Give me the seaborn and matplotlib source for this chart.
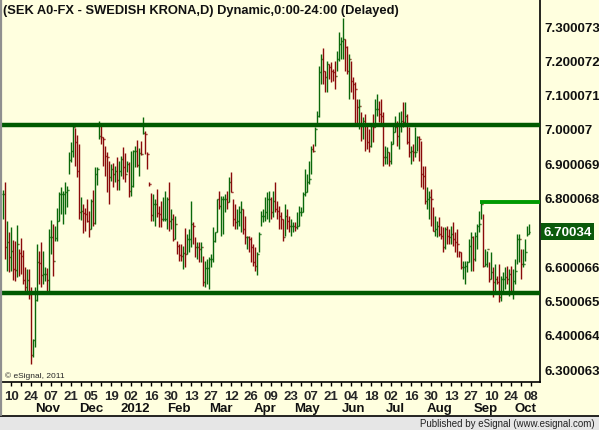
import numpy as np
import pandas as pd
import matplotlib
matplotlib.use("Agg")
import matplotlib.pyplot as plt
from matplotlib.lines import Line2D
from matplotlib.patches import Rectangle
import seaborn as sns

# daily bars SEK (Oct 4 2011 .. Oct 5 2012)
highs = [6.822, 6.845, 6.732, 6.700, 6.714, 6.676, 6.673, 6.720, 6.650, 6.682,
         6.647, 6.598, 6.592, 6.592, 6.539, 6.388, 6.539, 6.665, 6.644, 6.671,
         6.644, 6.598, 6.595, 6.708, 6.735, 6.723, 6.717, 6.770, 6.816, 6.831,
         6.819, 6.845, 6.834, 6.933, 6.962, 7.017, 7.003, 6.983, 6.956, 6.802,
         6.781, 6.770, 6.796, 6.761, 6.796, 6.822, 6.889, 6.889, 7.023, 7.015,
         6.977, 6.950, 6.933, 6.907, 6.898, 6.901, 6.892, 6.918, 6.907, 6.921,
         6.947, 6.930, 6.907, 6.904, 6.936, 6.939, 6.950, 6.968, 6.945, 6.965,
         7.035, 6.994, 6.933, 6.845, 6.813, 6.810, 6.796, 6.825, 6.776, 6.790,
         6.802, 6.819, 6.802, 6.845, 6.767, 6.752, 6.746, 6.673, 6.665, 6.665,
         6.659, 6.711, 6.694, 6.708, 6.790, 6.729, 6.685, 6.671, 6.671, 6.671,
         6.630, 6.615, 6.621, 6.627, 6.636, 6.714, 6.700, 6.796, 6.819, 6.805,
         6.805, 6.810, 6.819, 6.860, 6.875, 6.796, 6.781, 6.767, 6.776, 6.790,
         6.767, 6.746, 6.688, 6.688, 6.685, 6.665, 6.656, 6.641, 6.700, 6.761,
         6.767, 6.802, 6.816, 6.819, 6.802, 6.819, 6.845, 6.790, 6.776, 6.758,
         6.738, 6.781, 6.767, 6.746, 6.738, 6.729, 6.729, 6.758, 6.776, 6.773,
         6.816, 6.883, 6.869, 6.907, 6.950, 6.956, 7.006, 7.052, 7.184, 7.219,
         7.236, 7.169, 7.198, 7.189, 7.195, 7.175, 7.198, 7.227, 7.283, 7.268,
         7.324, 7.262, 7.242, 7.219, 7.198, 7.152, 7.137, 7.087, 7.087, 7.050,
         7.035, 7.044, 7.009, 7.000, 7.015, 7.044, 7.087, 7.102, 7.082, 7.087,
         7.050, 6.950, 6.947, 6.933, 6.965, 7.009, 7.038, 7.023, 7.050, 7.052,
         7.079, 7.079, 7.044, 7.006, 6.950, 6.956, 7.006, 6.980, 6.980, 6.965,
         6.892, 6.892, 6.831, 6.819, 6.825, 6.773, 6.746, 6.732, 6.743, 6.717,
         6.714, 6.714, 6.717, 6.708, 6.717, 6.729, 6.700, 6.708, 6.644, 6.641,
         6.615, 6.615, 6.615, 6.679, 6.700, 6.688, 6.700, 6.723, 6.761, 6.790,
         6.752, 6.650, 6.644, 6.612, 6.641, 6.598, 6.606, 6.571, 6.606, 6.571,
         6.583, 6.598, 6.601, 6.592, 6.601, 6.592, 6.621, 6.694, 6.694, 6.650,
         6.650, 6.679, 6.717, 6.723]
lows = [6.738, 6.621, 6.586, 6.583, 6.586, 6.560, 6.557, 6.568, 6.571, 6.577,
        6.548, 6.525, 6.528, 6.504, 6.315, 6.335, 6.364, 6.499, 6.548, 6.539,
        6.548, 6.557, 6.528, 6.528, 6.636, 6.571, 6.673, 6.673, 6.732, 6.752,
        6.723, 6.752, 6.773, 6.869, 6.904, 6.918, 6.892, 6.860, 6.738, 6.735,
        6.697, 6.703, 6.729, 6.685, 6.708, 6.717, 6.723, 6.837, 6.971, 6.956,
        6.892, 6.863, 6.816, 6.781, 6.848, 6.831, 6.845, 6.822, 6.822, 6.863,
        6.854, 6.845, 6.875, 6.802, 6.805, 6.831, 6.889, 6.889, 6.863, 6.924,
        6.985, 6.927, 6.883, 6.834, 6.732, 6.732, 6.717, 6.743, 6.714, 6.714,
        6.732, 6.732, 6.708, 6.703, 6.708, 6.673, 6.679, 6.636, 6.615, 6.615,
        6.592, 6.598, 6.636, 6.641, 6.656, 6.665, 6.627, 6.621, 6.612, 6.612,
        6.542, 6.539, 6.548, 6.533, 6.598, 6.612, 6.671, 6.700, 6.767, 6.688,
        6.694, 6.758, 6.767, 6.787, 6.816, 6.717, 6.708, 6.708, 6.717, 6.700,
        6.694, 6.665, 6.650, 6.641, 6.612, 6.601, 6.586, 6.574, 6.641, 6.717,
        6.729, 6.732, 6.738, 6.729, 6.738, 6.743, 6.758, 6.738, 6.708, 6.708,
        6.673, 6.688, 6.708, 6.700, 6.688, 6.700, 6.703, 6.708, 6.717, 6.746,
        6.758, 6.805, 6.816, 6.840, 6.869, 6.933, 6.950, 7.009, 7.035, 7.131,
        7.131, 7.108, 7.108, 7.146, 7.137, 7.140, 7.117, 7.169, 7.198, 7.204,
        7.204, 7.169, 7.160, 7.087, 7.108, 7.087, 7.009, 7.009, 7.000, 6.965,
        6.971, 6.936, 6.942, 6.933, 6.947, 6.962, 7.006, 7.038, 7.020, 7.009,
        6.892, 6.898, 6.898, 6.892, 6.898, 6.956, 6.991, 6.950, 6.942, 6.991,
        7.006, 7.009, 6.956, 6.918, 6.898, 6.907, 6.918, 6.936, 6.907, 6.831,
        6.825, 6.781, 6.767, 6.738, 6.717, 6.703, 6.688, 6.685, 6.688, 6.679,
        6.641, 6.650, 6.665, 6.665, 6.665, 6.659, 6.641, 6.627, 6.627, 6.592,
        6.563, 6.548, 6.583, 6.612, 6.586, 6.586, 6.615, 6.650, 6.700, 6.738,
        6.598, 6.601, 6.598, 6.554, 6.563, 6.510, 6.525, 6.548, 6.496, 6.499,
        6.525, 6.533, 6.548, 6.513, 6.519, 6.504, 6.548, 6.606, 6.612, 6.563,
        6.598, 6.615, 6.688, 6.694]
closes = [6.810, 6.656, 6.671, 6.627, 6.644, 6.592, 6.589, 6.665, 6.638, 6.630,
          6.560, 6.539, 6.560, 6.519, 6.341, 6.385, 6.501, 6.612, 6.609, 6.574,
          6.577, 6.577, 6.560, 6.685, 6.685, 6.615, 6.682, 6.732, 6.810, 6.810,
          6.810, 6.816, 6.822, 6.910, 6.936, 7.006, 6.962, 6.878, 6.758, 6.761,
          6.755, 6.752, 6.732, 6.708, 6.790, 6.726, 6.869, 6.883, 6.980, 6.977,
          6.971, 6.921, 6.918, 6.860, 6.883, 6.869, 6.878, 6.851, 6.878, 6.913,
          6.889, 6.869, 6.898, 6.819, 6.834, 6.936, 6.936, 6.895, 6.930, 6.927,
          6.988, 6.985, 6.927, 6.840, 6.749, 6.781, 6.781, 6.755, 6.752, 6.738,
          6.738, 6.738, 6.796, 6.732, 6.738, 6.679, 6.723, 6.659, 6.633, 6.630,
          6.638, 6.636, 6.679, 6.679, 6.723, 6.717, 6.656, 6.656, 6.650, 6.656,
          6.554, 6.595, 6.595, 6.621, 6.621, 6.673, 6.700, 6.796, 6.776, 6.796,
          6.796, 6.796, 6.787, 6.845, 6.816, 6.738, 6.729, 6.732, 6.758, 6.767,
          6.708, 6.685, 6.685, 6.679, 6.656, 6.612, 6.601, 6.636, 6.694, 6.746,
          6.746, 6.758, 6.796, 6.796, 6.758, 6.790, 6.767, 6.761, 6.746, 6.738,
          6.685, 6.746, 6.732, 6.717, 6.717, 6.717, 6.714, 6.717, 6.758, 6.758,
          6.810, 6.816, 6.845, 6.854, 6.942, 6.936, 7.000, 7.038, 7.166, 7.204,
          7.169, 7.152, 7.189, 7.181, 7.169, 7.166, 7.154, 7.204, 7.248, 7.257,
          7.262, 7.239, 7.169, 7.204, 7.140, 7.131, 7.117, 7.064, 7.067, 7.009,
          7.023, 7.015, 6.962, 6.950, 7.009, 7.006, 7.058, 7.058, 7.044, 7.038,
          6.918, 6.918, 6.933, 6.907, 6.956, 6.991, 7.006, 6.980, 7.009, 7.023,
          7.020, 7.038, 6.962, 6.933, 6.936, 6.933, 6.933, 6.977, 6.971, 6.869,
          6.863, 6.790, 6.796, 6.802, 6.796, 6.703, 6.708, 6.717, 6.694, 6.688,
          6.656, 6.708, 6.688, 6.685, 6.694, 6.679, 6.671, 6.665, 6.641, 6.598,
          6.598, 6.601, 6.612, 6.659, 6.685, 6.621, 6.688, 6.717, 6.723, 6.781,
          6.601, 6.606, 6.650, 6.563, 6.583, 6.554, 6.563, 6.554, 6.510, 6.563,
          6.563, 6.568, 6.563, 6.577, 6.528, 6.557, 6.586, 6.679, 6.679, 6.606,
          6.606, 6.641, 6.694, 6.70034]

support = 6.522
resistance = 7.012
sept_high = 6.787
sept_high_bar = 239
last_price = "6.70034"
ytick_vals = [6.300063, 6.400064, 6.500065, 6.600066, 6.800068,
              6.900069, 7.00007, 7.100071, 7.200072, 7.300073]
title = "(SEK A0-FX - SWEDISH KRONA,D) Dynamic,0:00-24:00 (Delayed)"

BG = "#FFFFDF"
GREEN = "#0A680A"
RED = "#8A0A0A"
LINE = "#005A00"

df = pd.DataFrame({"date": pd.bdate_range("2011-10-04", periods=len(closes)),
                   "high": highs, "low": lows, "close": closes})
df["open"] = df["close"].shift(1).fillna(df["close"])
df["x"] = np.arange(len(df))
df["color"] = np.where(df["close"] >= df["open"], GREEN, RED)

sns.set_theme(style="white", rc={"axes.facecolor": BG, "figure.facecolor": BG})
plt.rcParams["font.family"] = ["Liberation Sans", "DejaVu Sans"]

fig = plt.figure(figsize=(5.99, 4.31), dpi=100)
ax = fig.add_axes([2 / 599, 48 / 431, 538 / 599, 383 / 431])

ax.vlines(df["x"], df["low"], df["high"], colors=df["color"], lw=1.0, zorder=3)
ax.hlines(df["open"], df["x"] - 0.5, df["x"], colors=df["color"], lw=1.0, zorder=3)
ax.hlines(df["close"], df["x"], df["x"] + 0.5, colors=df["color"], lw=1.0, zorder=3)

ax.axhline(resistance, color=LINE, lw=3.2, zorder=4)
ax.axhline(support, color=LINE, lw=3.2, zorder=4)
ax.hlines(sept_high, sept_high_bar - 0.5, len(df) + 6, color="#009A00", lw=2.8, zorder=4)

ax.set_xlim(-0.65, 268.35)
ax.set_ylim(6.2624, 7.379)

# y axis on the right
ax.yaxis.tick_right()
ax.set_yticks(ytick_vals)
ax.set_yticklabels([f"{v:.6f}".rstrip("0") for v in ytick_vals])
ax.tick_params(axis="y", length=0, pad=3, labelsize=9.5, labelcolor="#111111")
for lab in ax.get_yticklabels():
    lab.set_fontweight("bold")

# biweekly date ticks
mondays = df.index[df["date"].dt.weekday == 0]
major = list(mondays[::2]) + [len(df)]
labels = [d.strftime("%d") for d in df["date"].iloc[major[:-1]]] + ["08"]
ax.set_xticks(major)
ax.set_xticklabels(labels)
ax.set_xticks(list(mondays[1::2]), minor=True)
ax.tick_params(axis="x", which="both", direction="out", length=3, width=1,
               color="black", bottom=True, pad=3, labelsize=9.5)
for lab in ax.get_xticklabels():
    lab.set_fontweight("bold")

firsts = df.groupby(df["date"].dt.to_period("M"))["x"].first().iloc[1:]
for per, xi in firsts.items():
    name = "2012" if per.month == 1 else per.strftime("%b")
    ax.text(xi + 2, -0.068, name, transform=ax.get_xaxis_transform(),
            ha="center", va="center", fontsize=9.5, fontweight="bold", color="#111111")

for side in ["top", "left"]:
    ax.spines[side].set_visible(False)
for side in ["right", "bottom"]:
    ax.spines[side].set_color("black")
    ax.spines[side].set_linewidth(1.2)

ax.text(1.006, float(last_price), last_price,
        transform=ax.get_yaxis_transform(), ha="left", va="center",
        fontsize=9.5, fontweight="bold", color="white", zorder=6, clip_on=False,
        bbox=dict(boxstyle="square,pad=0.2", fc="#0B5A0B", ec="none"))

fig.text(3 / 599, 1 - 11 / 431, title, fontsize=9.3, fontweight="bold",
         ha="left", va="center", color="#111111")
fig.text(5 / 599, 1 - 376 / 431, "\u00a9 eSignal, 2011", fontsize=6, va="center")

# footer strip
fig.patches.append(Rectangle((0, 0), 1, 14.5 / 431, transform=fig.transFigure,
                             fc="#E6E6E6", ec="none"))
fig.lines.append(Line2D([0, 1], [14.5 / 431] * 2, transform=fig.transFigure,
                        color="black", lw=1.2))
fig.lines.append(Line2D([0.8 / 599] * 2, [15 / 431, 1], transform=fig.transFigure,
                        color="#909090", lw=1.6))
fig.text(595 / 599, 7 / 431, "Published by eSignal (www.esignal.com)",
         fontsize=7, ha="right", va="center", color="#222222")

fig.savefig("out.png", dpi=100, facecolor=BG)
